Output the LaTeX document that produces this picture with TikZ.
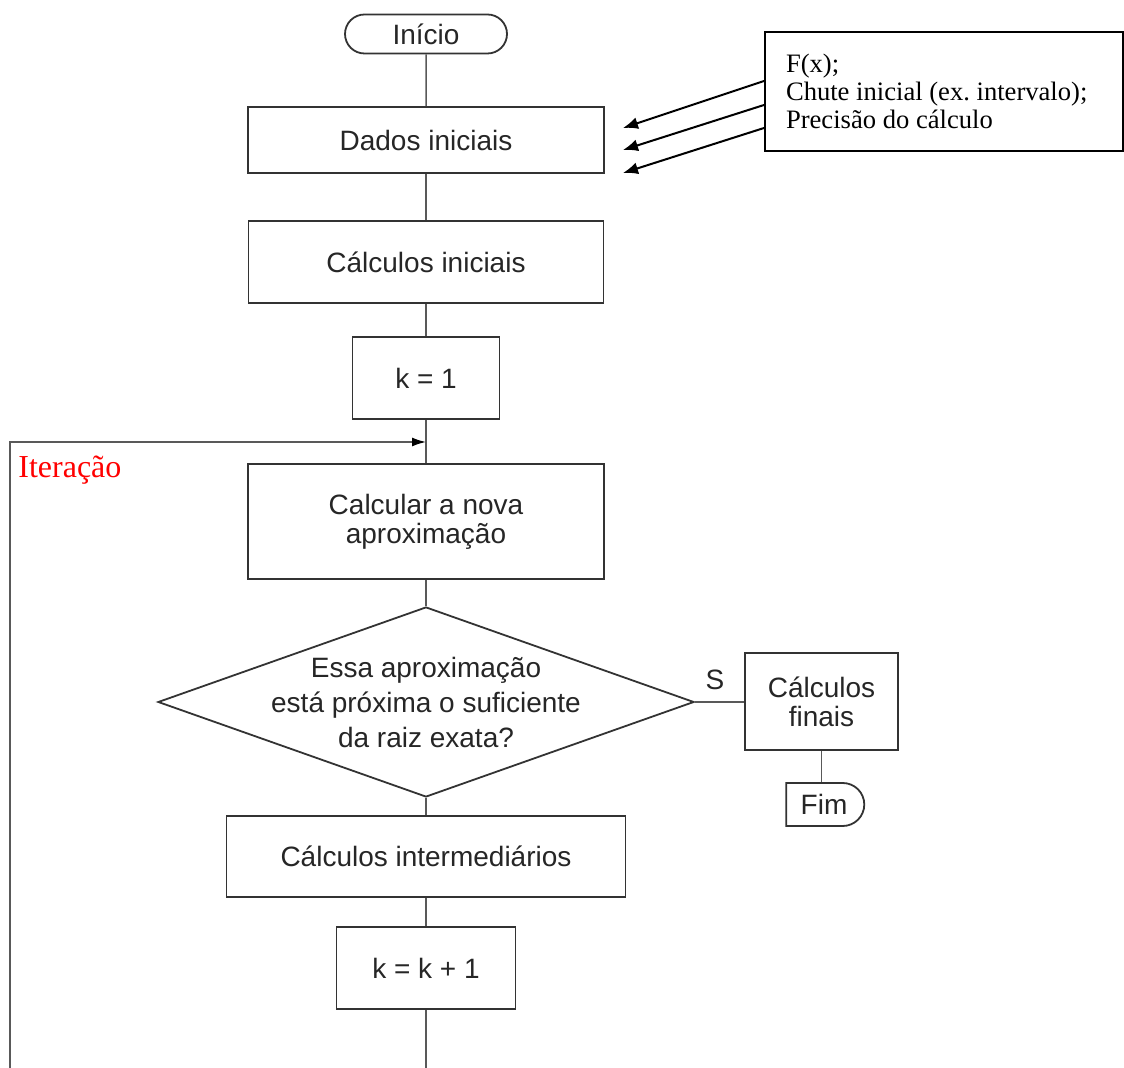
\documentclass[tikz,border=0pt]{standalone}
\usepackage{fontspec}
\setmainfont{Liberation Serif}
\newfontfamily\flowfont{Liberation Sans}
\usetikzlibrary{shapes.geometric,shapes.misc,arrows.meta}
\frenchspacing

\begin{document}
\begin{tikzpicture}[x=0.5pt,y=-0.5pt,
  box/.style={draw=black!80, line width=0.9pt, rectangle, inner sep=0pt, align=center, text=black!85, font=\flowfont\fontsize{14}{14.5}\selectfont},
  term/.style={box, rounded rectangle},
  decision/.style={draw=black!80, line width=0.9pt, diamond, inner sep=0pt, minimum width=268pt, minimum height=95pt},
  link/.style={draw=black!65, line width=0.75pt},
  inarrow/.style={draw=black, line width=1pt, -{Latex[length=7.5pt,width=6pt]}}]
\useasboundingbox (0,0) rectangle (1124,1068);
\node[term, minimum width=81pt, minimum height=19.5pt] (ini) at (426,34) {Início};
\node[box, minimum width=178pt, minimum height=33pt] (dados) at (426,140) {Dados iniciais};
\node[box, minimum width=177.5pt, minimum height=41pt] (calcini) at (426,262) {Cálculos iniciais};
\node[box, minimum width=73.5pt, minimum height=41pt] (k1) at (426,378) {k = 1};
\node[box, minimum width=178pt, minimum height=57.5pt] (calc) at (426,521.5) {Calcular a nova\\aproximação};
\node[decision, label={[align=center, text=black!85, font=\flowfont\fontsize{14}{17.5}\selectfont]center:Essa aproximação\\está próxima o suficiente\\da raiz exata?}] (dec) at (426,702) {};
\node[box, minimum width=76.5pt, minimum height=48.5pt] (final) at (821.5,701.5) {Cálculos\\finais};
\node[term, rounded rectangle left arc=none, minimum width=39pt, minimum height=21.5pt] (fim) at (824,804.5) {Fim};
\node[box, minimum width=199.5pt, minimum height=40.5pt] (inter) at (426,856.5) {Cálculos intermediários};
\node[box, minimum width=89.5pt, minimum height=41pt] (kk) at (426,968) {k = k + 1};
\node[text=black!85, font=\flowfont\fontsize{14}{14}\selectfont, inner sep=0pt] (sim) at (715,680) {S};
\node[anchor=west, text=red, font=\fontsize{16}{18}\selectfont, inner sep=0pt] (iter) at (18,470) {Iteração};
\node[draw=black, line width=1pt, minimum width=179pt, minimum height=59.5pt, text width=158pt, align=flush left, inner xsep=10.5pt, inner ysep=0pt, font=\fontsize{13.3}{14}\selectfont] (info) at (944,91.5) {F(x);\\Chute inicial (ex. intervalo);\\Precisão do cálculo};
\coordinate (bot) at (426,1068);
\coordinate (lb) at (10,1068);
\coordinate (lt) at (10,442);
\coordinate (join) at (426,442);
\coordinate (in1) at (623,128);
\coordinate (in2) at (623,150);
\coordinate (in3) at (623,173);
\draw[link] (ini) -- (dados);
\draw[link] (dados) -- (calcini);
\draw[link] (calcini) -- (k1);
\draw[link] (k1) -- (calc);
\draw[link] (calc) -- (dec);
\draw[link] (dec.east) -- (dec.east -| final.west);
\draw[link] (final.south) -- (final.south |- fim.north);
\draw[link] (dec) -- (inter);
\draw[link] (inter) -- (kk);
\draw[link] (kk) -- (bot);
\draw[link, -{Latex[length=7pt,width=4.5pt,color=black]}] (lb) -- (lt) -- (join);
\draw[inarrow] ([yshift=5.25pt]info.west) -- (in1);
\draw[inarrow] ([yshift=-6.75pt]info.west) -- (in2);
\draw[inarrow] ([yshift=-18.25pt]info.west) -- (in3);
\end{tikzpicture}
\end{document}
